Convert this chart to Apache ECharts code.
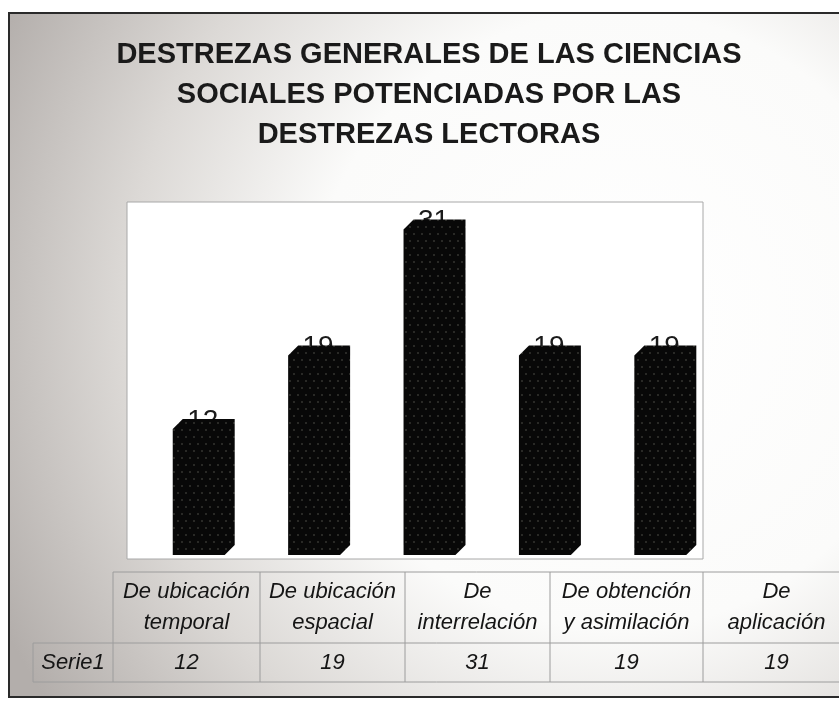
<!DOCTYPE html>
<html><head><meta charset="utf-8">
<script src="https://cdn.jsdelivr.net/npm/echarts@6/dist/echarts.min.js"></script>
<style>html,body{margin:0;padding:0;background:#fff}#c{width:839px;height:703px}</style>
</head><body><div id="c"></div>
<script>
// ---- data ----
const titleText = 'DESTREZAS GENERALES DE LAS CIENCIAS\nSOCIALES POTENCIADAS POR LAS\nDESTREZAS LECTORAS';
const categories = ['De ubicación\ntemporal', 'De ubicación\nespacial', 'De\ninterrelación', 'De obtención\ny asimilación', 'De\naplicación'];
const seriesName = 'Serie1';
const values = [12, 19, 31, 19, 19];

// ---- layout constants (table) ----
const colEdges = [113, 260, 405, 550, 703, 850];
const tableTop = 572, tableMid = 643, tableBot = 682, nameLeft = 33;
const FONT = '"Liberation Sans", Arial, sans-serif';

// dotted black pattern for bars
const pc = document.createElement('canvas');
pc.width = 8; pc.height = 14;
const g = pc.getContext('2d');
g.fillStyle = '#080808'; g.fillRect(0, 0, 8, 14);
g.fillStyle = '#5e5e56';
g.beginPath(); g.arc(2, 3, 0.75, 0, Math.PI * 2); g.fill();
g.beginPath(); g.arc(6, 10, 0.75, 0, Math.PI * 2); g.fill();
const pattern = { image: pc, repeat: 'repeat' };

const chart = echarts.init(document.getElementById('c'), null, { renderer: 'canvas' });

const graphics = [];
// outer frame with gradient
graphics.push({
  type: 'rect', z: -10,
  shape: { x: 9, y: 13, width: 845, height: 684 },
  style: {
    fill: new echarts.graphic.RadialGradient(0.72, 0.45, 1.0, [
      { offset: 0, color: '#ffffff' },
      { offset: 0.45, color: '#fbfbfa' },
      { offset: 0.72, color: '#dcd9d6' },
      { offset: 1, color: '#b3aeab' }
    ]),
    stroke: '#2a2a2a', lineWidth: 2
  }
});
// plot area box
graphics.push({
  type: 'rect', z: -5,
  shape: { x: 127, y: 202, width: 576, height: 357 },
  style: { fill: '#ffffff', stroke: '#a8a8a8', lineWidth: 1 }
});
// table lines
const lineStyle = { stroke: '#9c9c9c', lineWidth: 1 };
const hl = (x1, x2, y) => graphics.push({ type: 'line', z: -4, shape: { x1, y1: y, x2, y2: y }, style: lineStyle });
const vl = (x, y1, y2) => graphics.push({ type: 'line', z: -4, shape: { x1: x, y1, x2: x, y2 }, style: lineStyle });
hl(colEdges[0], colEdges[colEdges.length - 1], tableTop);
hl(nameLeft, colEdges[colEdges.length - 1], tableMid);
hl(nameLeft, colEdges[colEdges.length - 1], tableBot);
vl(nameLeft, tableMid, tableBot);
colEdges.forEach(x => vl(x, tableTop, tableBot));
// table texts
const tStyle = { font: 'italic 22px ' + FONT, fill: '#151515', align: 'center', verticalAlign: 'middle', lineHeight: 31 };
categories.forEach((c, i) => {
  const cx = (colEdges[i] + colEdges[i + 1]) / 2;
  graphics.push({ type: 'text', z: -3, style: Object.assign({ text: c, x: cx, y: (tableTop + tableMid) / 2 }, tStyle) });
  graphics.push({ type: 'text', z: -3, style: Object.assign({ text: String(values[i]), x: cx, y: (tableMid + tableBot) / 2 }, tStyle) });
});
graphics.push({ type: 'text', z: -3, style: Object.assign({ text: seriesName, x: (nameLeft + colEdges[0]) / 2, y: (tableMid + tableBot) / 2 }, tStyle) });

chart.setOption({
  animation: false,
  title: {
    text: titleText,
    left: 429, top: 0,
    textAlign: 'center',
    padding: [35, 0, 0, 0],
    textStyle: { fontFamily: FONT, fontSize: 29, fontWeight: 'bold', color: '#1a1a1a', lineHeight: 40 }
  },
  graphic: { elements: graphics },
  grid: { left: 141, width: 577, top: 198, height: 357 },
  xAxis: { type: 'category', data: categories, show: false },
  yAxis: { type: 'value', min: 0, max: 34, show: false },
  series: [{
    type: 'custom',
    name: seriesName,
    data: values.map((v, i) => [i, v]),
    encode: { x: 0, y: 1 },
    renderItem(params, api) {
      const idx = api.value(0), v = api.value(1);
      const top = api.coord([idx, v]);
      const base = api.coord([idx, 0]);
      const band = api.size([1, 0])[0];
      const w = band * 0.45, d = band * 0.087;
      const x0 = top[0] - w / 2, x1 = top[0] + w / 2, yT = top[1], yB = base[1];
      return {
        type: 'group',
        children: [
          { type: 'text', z2: 1, style: { text: String(v), x: top[0] + 4, y: yT - d + 2, align: 'center', verticalAlign: 'middle', font: '28px ' + FONT, fill: '#1a1a1a' } },
          { type: 'polygon', z2: 5, shape: { points: [[x0, yB], [x0, yT], [x0 + d, yT - d], [x1 + d, yT - d], [x1 + d, yB - d], [x1, yB]] }, style: { fill: pattern } }
        ]
      };
    }
  }]
});
</script></body></html>
